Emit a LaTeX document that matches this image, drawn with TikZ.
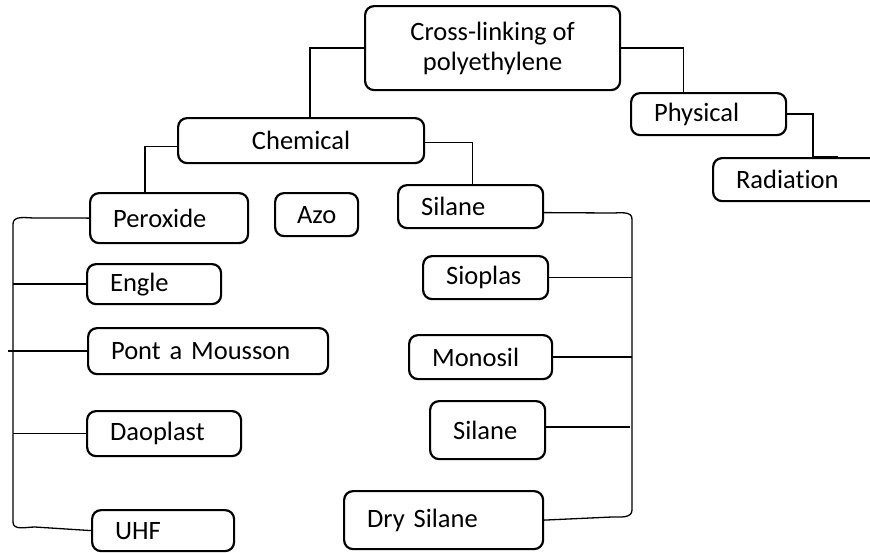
\documentclass[tikz,border=0pt]{standalone}
\usepackage{fontspec}
\setmainfont{Carlito}[Ligatures=NoCommon]

\tikzset{
  box/.style={draw, line width=2.2pt, rounded corners=9pt, anchor=north west,
    inner xsep=23pt, inner ysep=0pt, align=left, font=\fontsize{26.5}{30}\selectfont},
  midbox/.style={box, align=center, inner xsep=0pt},
  link/.style={line width=1.3pt}
}

\begin{document}
\begin{tikzpicture}[x=1pt, y=-1pt]
  \clip (0,0) rectangle (870,552);
  % top of the tree
  \node[midbox, minimum width=255pt, minimum height=84pt] (root) at (364,5) {Cross-linking of\\polyethylene};
  \node[midbox, minimum width=246pt, minimum height=45pt] (chemical) at (177,117) {Chemical};
  \node[box, text width=109pt, minimum height=42pt] (physical) at (630,92) {Physical};
  \node[box, text width=154pt, minimum height=43pt] (radiation) at (712,157) {Radiation};
  % chemical branches
  \node[box, text width=112pt, minimum height=50pt] (peroxide) at (89,192) {Peroxide};
  \node[midbox, minimum width=83pt, minimum height=43pt] (azo) at (274,192) {Azo};
  \node[box, text width=99pt, minimum height=43pt] (silane) at (397,184) {Silane};
  % peroxide processes
  \node[box, text width=88pt, minimum height=40pt] (engle) at (86,263) {Engle};
  \node[box, text width=194pt, minimum height=46pt] (pont) at (87,327) {Pont a Mousson};
  \node[box, text width=108pt, minimum height=45pt] (daoplast) at (86,410) {Daoplast};
  \node[box, text width=96pt, minimum height=41pt] (uhf) at (91,509) {UHF};
  % silane processes
  \node[box, text width=79pt, minimum height=43pt] (sioplas) at (422,255) {Sioplas};
  \node[box, text width=97pt, minimum height=44pt] (monosil) at (408,334) {Monosil};
  \node[box, text width=69pt, minimum height=58pt] (silanetwo) at (429,400) {Silane};
  \node[box, text width=153pt, minimum height=58pt] (drysilane) at (343,490) {Dry Silane};

  % connectors
  \draw[link] (root.west) -| ([xshift=9pt]chemical.north);
  \draw[link] (root.east) -| ([xshift=-25pt]physical.north);
  \draw[link] (physical.east) -| (radiation.north);
  \draw[line width=2.6pt] (radiation.north) -- ++(25,0);
  \draw[link] ([yshift=-6pt]chemical.west) -| ([xshift=-24pt]peroxide.north);
  \draw[link] ([yshift=-2pt]chemical.east) -| ([xshift=2pt]silane.north);

  % left bus
  \coordinate (lbtop) at (13,224);
  \coordinate (lbbot) at (13,522);
  \coordinate (pontend) at (8,352);
  \draw[link] (peroxide.west) -- (35,218) to[out=180,in=90] (lbtop) -- (lbbot)
    to[out=-90,in=180] (35,527) -- (uhf.west);
  \draw[link] (engle.west) -- (engle.west -| lbtop);
  \draw[link] (pont.west) -- (pont.west -| pontend);
  \draw[link] (daoplast.west) -- (daoplast.west -| lbtop);

  % right bus
  \coordinate (rbtop) at (632,219);
  \coordinate (rbbot) at (632,510);
  \draw[link] ([yshift=-6pt]silane.east) -- (612,213) to[out=0,in=90] (rbtop) -- (rbbot)
    to[out=-90,in=0] (612,517) -- (drysilane.east);
  \draw[link] (sioplas.east) -- (sioplas.east -| rbtop);
  \draw[link] (monosil.east) -- (monosil.east -| rbtop);
  \draw[link] ([yshift=3pt]silanetwo.east) -- ++(84,0);
\end{tikzpicture}
\end{document}
